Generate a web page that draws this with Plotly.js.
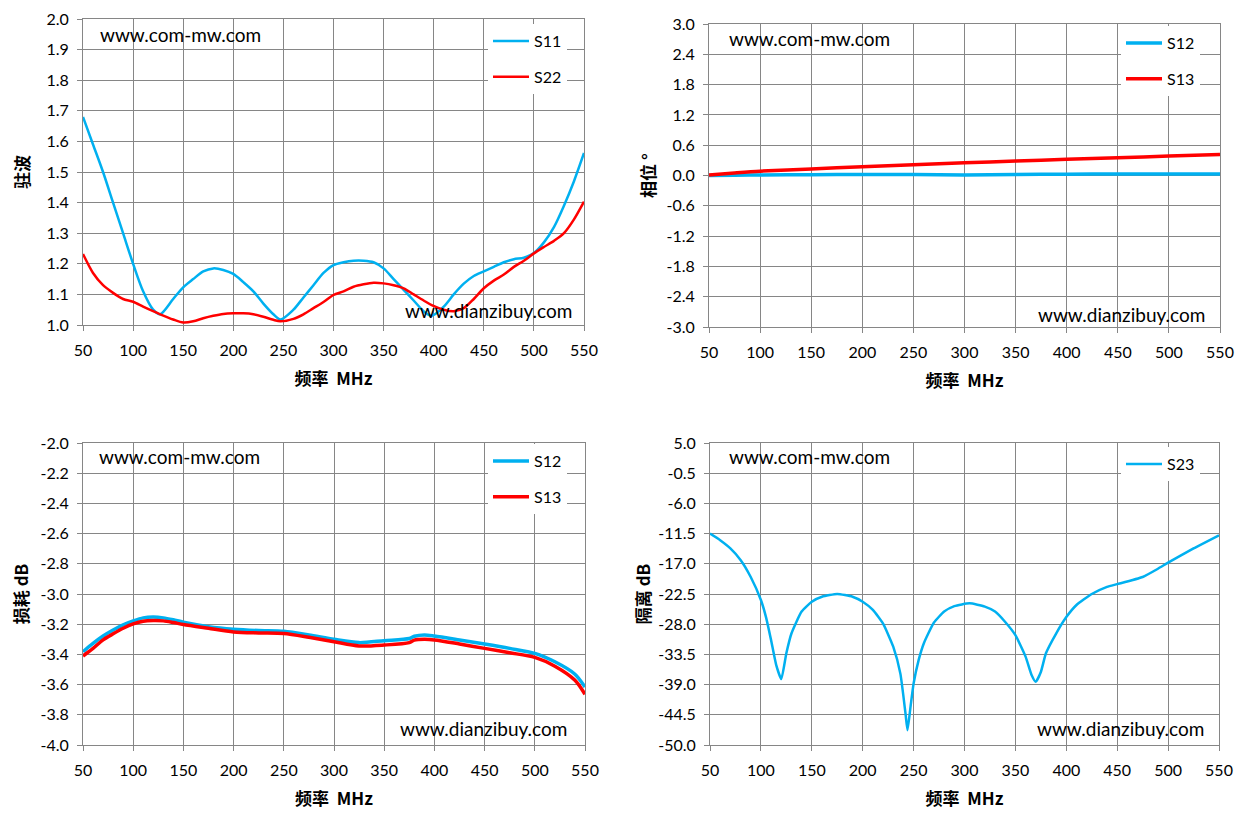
<!DOCTYPE html>
<html>
<head>
<meta charset="utf-8">
<script src="https://cdn.plot.ly/plotly-3.0.1.min.js"></script>
<style>
  body { margin: 0; background: #fff; }
  #chart { width: 1253px; height: 834px; }
</style>
</head>
<body>
<div id="chart"></div>
<script>
// VSWR (top left)
var vswrFreq = [50, 60, 70, 80, 90, 100, 110, 120, 127, 140, 150, 160, 170, 180, 190, 200, 210, 220, 230, 240, 247,
  260, 270, 280, 290, 300, 310, 320, 330, 340, 350, 360, 370, 380, 390, 398, 410, 420, 430, 440, 450,
  460, 470, 480, 490, 500, 510, 520, 530, 540, 550];
var s11 = [1.68, 1.59, 1.50, 1.40, 1.30, 1.20, 1.11, 1.05, 1.035, 1.085, 1.123, 1.15, 1.175, 1.185, 1.18, 1.167, 1.14, 1.11, 1.07, 1.035, 1.018,
  1.05, 1.09, 1.13, 1.17, 1.196, 1.205, 1.21, 1.21, 1.205, 1.185, 1.15, 1.115, 1.08, 1.045, 1.03, 1.06, 1.10, 1.135, 1.16, 1.175,
  1.19, 1.205, 1.215, 1.22, 1.235, 1.27, 1.32, 1.39, 1.47, 1.562];
var s22 = [1.232, 1.17, 1.13, 1.105, 1.085, 1.076, 1.06, 1.045, 1.035, 1.018, 1.008, 1.012, 1.022, 1.03, 1.036, 1.038, 1.038, 1.035, 1.027, 1.017, 1.012,
  1.02, 1.035, 1.055, 1.075, 1.098, 1.11, 1.125, 1.133, 1.138, 1.136, 1.13, 1.12, 1.10, 1.08, 1.065, 1.05, 1.045, 1.055, 1.085, 1.12,
  1.145, 1.165, 1.19, 1.21, 1.234, 1.255, 1.275, 1.30, 1.345, 1.403];

// phase (top right)
var phaseFreq = [50, 75, 100, 150, 200, 250, 300, 350, 400, 450, 500, 550];
var phaseS12 = [0.0, 0.005, 0.01, 0.015, 0.02, 0.02, 0.01, 0.02, 0.025, 0.03, 0.03, 0.03];
var phaseS13 = [0.01, 0.05, 0.085, 0.13, 0.175, 0.215, 0.25, 0.285, 0.32, 0.35, 0.385, 0.415];
var phaseTicks = [-3.0, -2.4, -1.8, -1.2, -0.6, 0.0, 0.6, 1.2, 1.8, 2.4, 3.0];
var phaseTickText = ["-3.0", "-2.4", "-1.8", "-1.2", "-0.6", "0.0", "0.6", "1.2", "1.8", "2.4", "3.0"];

// insertion loss (bottom left)
var lossFreq = [50, 60, 70, 80, 90, 100, 110, 120, 130, 140, 150, 175, 200, 225, 250, 275, 300, 325, 350, 375, 380, 390, 400,
  425, 450, 475, 500, 520, 540, 550];
var lossS12 = [-3.382, -3.327, -3.278, -3.238, -3.204, -3.178, -3.158, -3.153, -3.158, -3.171, -3.187, -3.216, -3.233, -3.242, -3.247,
  -3.271, -3.30, -3.322, -3.309, -3.295, -3.28, -3.271, -3.278, -3.304, -3.331, -3.36, -3.393, -3.449, -3.531, -3.616];
var lossS13 = [-3.411, -3.36, -3.304, -3.264, -3.227, -3.198, -3.18, -3.176, -3.178, -3.189, -3.202, -3.227, -3.251, -3.258, -3.262,
  -3.287, -3.316, -3.344, -3.338, -3.322, -3.305, -3.30, -3.304, -3.331, -3.36, -3.389, -3.42, -3.478, -3.571, -3.664];
var lossTicks = [-4.0, -3.8, -3.6, -3.4, -3.2, -3.0, -2.8, -2.6, -2.4, -2.2, -2.0];
var lossTickText = ["-4.0", "-3.8", "-3.6", "-3.4", "-3.2", "-3.0", "-2.8", "-2.6", "-2.4", "-2.2", "-2.0"];

// isolation (bottom right)
var isoFreq = [50, 60, 70, 80, 90, 100, 105, 110, 115, 120, 125, 130, 140, 150, 160, 175, 190, 200, 210, 220, 230, 237, 242, 244,
  247, 250, 255, 260, 270, 280, 290, 305, 320, 330, 340, 350, 360, 366, 370, 375, 380, 390, 400, 410, 425, 440, 450,
  475, 490, 500, 525, 550];
var isoS23 = [-11.5, -12.7, -14.2, -16.3, -19.4, -23.6, -26.7, -30.9, -35.4, -38.0, -33.3, -29.7, -25.7, -23.9, -23.0, -22.5, -23.0,
  -23.9, -25.4, -27.9, -32.1, -37.0, -44.2, -47.3, -43.0, -38.8, -34.5, -31.5, -27.7, -25.7, -24.7, -24.2, -24.8, -25.7,
  -27.6, -30.0, -33.9, -37.3, -38.5, -36.7, -33.3, -29.7, -26.7, -24.5, -22.5, -21.2, -20.7, -19.4, -17.9, -16.8, -14.2, -11.8];
var isoTicks = [-50.0, -44.5, -39.0, -33.5, -28.0, -22.5, -17.0, -11.5, -6.0, -0.5, 5.0];
var isoTickText = ["-50.0", "-44.5", "-39.0", "-33.5", "-28.0", "-22.5", "-17.0", "-11.5", "-6.0", "-0.5", "5.0"];

var BLUE = "#00B0F0";
var RED = "#FF0000";
var GRID = "#868686";
var W = 1253, H = 834;

function line(x, y, name, color, width, xa, ya, legend, group, smooth) {
  return {
    x: x, y: y, name: name, type: "scatter", mode: "lines",
    line: { color: color, width: width, shape: "spline", smoothing: smooth },
    xaxis: xa, yaxis: ya, legend: legend, legendgroup: group
  };
}

var data = [
  line(vswrFreq, s11, "S11", BLUE, 2.5, "x", "y", "legend", "a", 0.8),
  line(vswrFreq, s22, "S22", RED, 2.5, "x", "y", "legend", "b", 0.8),
  line(phaseFreq, phaseS12, "S12", BLUE, 3.5, "x2", "y2", "legend2", "a", 0.8),
  line(phaseFreq, phaseS13, "S13", RED, 3.5, "x2", "y2", "legend2", "b", 0.8),
  line(lossFreq, lossS12, "S12", BLUE, 3.5, "x3", "y3", "legend3", "a", 0.8),
  line(lossFreq, lossS13, "S13", RED, 3.5, "x3", "y3", "legend3", "b", 0.8),
  line(isoFreq, isoS23, "S23", BLUE, 2.5, "x4", "y4", "legend4", "a", 0.5)
];

var tickFont = { family: "Lato, 'Noto Sans', sans-serif", size: 16, color: "#000" };
var titleFont = { family: "'Noto Sans CJK SC', sans-serif", size: 17, color: "#000", weight: "bold" };

function xAxis(x0, x1, anchor) {
  return {
    domain: [x0 / W, x1 / W], anchor: anchor, range: [50, 550], dtick: 50, tick0: 50,
    showgrid: true, gridcolor: GRID, gridwidth: 1, zeroline: false,
    showline: true, linecolor: GRID, linewidth: 1, mirror: true,
    ticks: "outside", ticklen: 5, tickcolor: GRID, ticklabelstandoff: 6,
    tickfont: tickFont,
    title: { text: "频率  MHz", font: titleFont, standoff: 14 }
  };
}
function yAxis(y0, y1, anchor, range, dtick, title, standoff, tickvals, ticktext) {
  var ax = {
    domain: [1 - y1 / H, 1 - y0 / H], anchor: anchor, range: range, dtick: dtick, tick0: range[1],
    tickformat: ".1f",
    showgrid: true, gridcolor: GRID, gridwidth: 1, zeroline: false,
    showline: true, linecolor: GRID, linewidth: 1, mirror: true,
    ticks: "outside", ticklen: 5, tickcolor: GRID, ticklabelstandoff: 5,
    tickfont: tickFont,
    title: { text: title, font: titleFont, standoff: standoff }
  };
  if (tickvals) {
    ax.tickmode = "array";
    ax.tickvals = tickvals;
    ax.ticktext = ticktext;
  }
  return ax;
}
function legendAt(px, py) {
  return {
    x: px / W, y: 1 - py / H, xanchor: "left", yanchor: "top",
    bgcolor: "#fff", borderwidth: 0, itemwidth: 36, tracegroupgap: 12,
    font: { family: "Lato, 'Noto Sans', sans-serif", size: 16, color: "#000" }
  };
}
function mark(text, px, py) {
  return {
    text: text, xref: "paper", yref: "paper", x: px / W, y: 1 - py / H,
    xanchor: "left", yanchor: "middle", showarrow: false,
    font: { family: "Lato, 'Noto Sans', sans-serif", size: 19, color: "#000" }
  };
}

var layout = {
  width: W, height: H,
  margin: { l: 0, r: 0, t: 0, b: 0 },
  paper_bgcolor: "#fff", plot_bgcolor: "#fff",
  xaxis: xAxis(83, 584, "y"),
  yaxis: yAxis(19, 325, "x", [1.0, 2.0], 0.1, "驻波", 12),
  xaxis2: xAxis(709, 1220, "y2"),
  yaxis2: yAxis(24, 327, "x2", [-3.0, 3.0], 0.6, "相位 °", 6, phaseTicks, phaseTickText),
  xaxis3: xAxis(83, 585, "y3"),
  yaxis3: yAxis(443, 745, "x3", [-4.0, -2.0], 0.2, "损耗 dB", 7, lossTicks, lossTickText),
  xaxis4: xAxis(710, 1219, "y4"),
  yaxis4: yAxis(443, 745, "x4", [-50.0, 5.0], 5.5, "隔离 dB", 3, isoTicks, isoTickText),
  legend: legendAt(488, 24),
  legend2: legendAt(1121, 26),
  legend3: legendAt(488, 444),
  legend4: legendAt(1121, 447),
  annotations: [
    mark("www.com-mw.com", 98, 35), mark("www.dianzibuy.com", 403, 310),
    mark("www.com-mw.com", 727, 38), mark("www.dianzibuy.com", 1036, 314),
    mark("www.com-mw.com", 97, 456), mark("www.dianzibuy.com", 398, 728),
    mark("www.com-mw.com", 727, 456), mark("www.dianzibuy.com", 1035, 728)
  ]
};

Plotly.newPlot("chart", data, layout, { displayModeBar: false });
</script>
</body>
</html>
